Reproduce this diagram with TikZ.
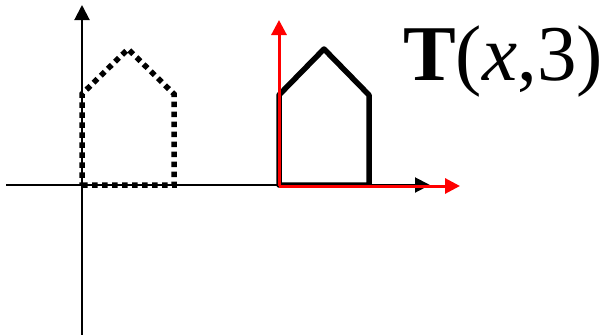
\documentclass[tikz,border=0pt]{standalone}
\usepackage{fontspec}
\setmainfont{Liberation Serif}
\usepackage{tikz}
\usetikzlibrary{arrows.meta}

\tikzset{
  axis/.style={line width=2pt, -{Triangle[length=15pt,width=15pt]}},
  redaxis/.style={red, line width=3pt, -{Triangle[length=15pt,width=15pt]}},
  oldhouse/.style={line width=5.5pt, dash pattern=on 5.5pt off 4.5pt},
  newhouse/.style={line width=5.5pt, line join=round}
}

\begin{document}
\begin{tikzpicture}[x=1pt, y=-1pt]
  \useasboundingbox (0,0) rectangle (606,335);

  % Axes
  \coordinate (xl) at (6,185);
  \coordinate (xr) at (430,185);
  \coordinate (yb) at (82,335);
  \coordinate (yt) at (82,5);
  \draw[axis] (xl) -- (xr);
  \draw[axis] (yb) -- (yt);

  % Original house (dotted)
  \coordinate (a0) at (82,185);
  \coordinate (a1) at (174,185);
  \coordinate (a2) at (174,94);
  \coordinate (a3) at (128,49);
  \coordinate (a4) at (82,94);
  \draw[oldhouse] (a0) -- (a1) -- (a2) -- (a3) -- (a4) -- cycle;

  % Translated house
  \coordinate (b0) at (279,185);
  \coordinate (b1) at (369,185);
  \coordinate (b2) at (369,95);
  \coordinate (b3) at (324,49);
  \coordinate (b4) at (279,95);
  \draw[newhouse] (b0) -- (b1) -- (b2) -- (b3) -- (b4) -- cycle;

  % New frame
  \coordinate (ro) at (279,186);
  \coordinate (rx) at (460,186);
  \coordinate (ry) at (279,20);
  \draw[redaxis] (ro) -- (rx);
  \draw[redaxis] (ro) -- (ry);

  \node[anchor=base west, inner sep=0pt, font=\fontsize{79}{86}\selectfont] (lbl) at (403,80) {\textbf{T}(\textit{x},3)};
\end{tikzpicture}
\end{document}
